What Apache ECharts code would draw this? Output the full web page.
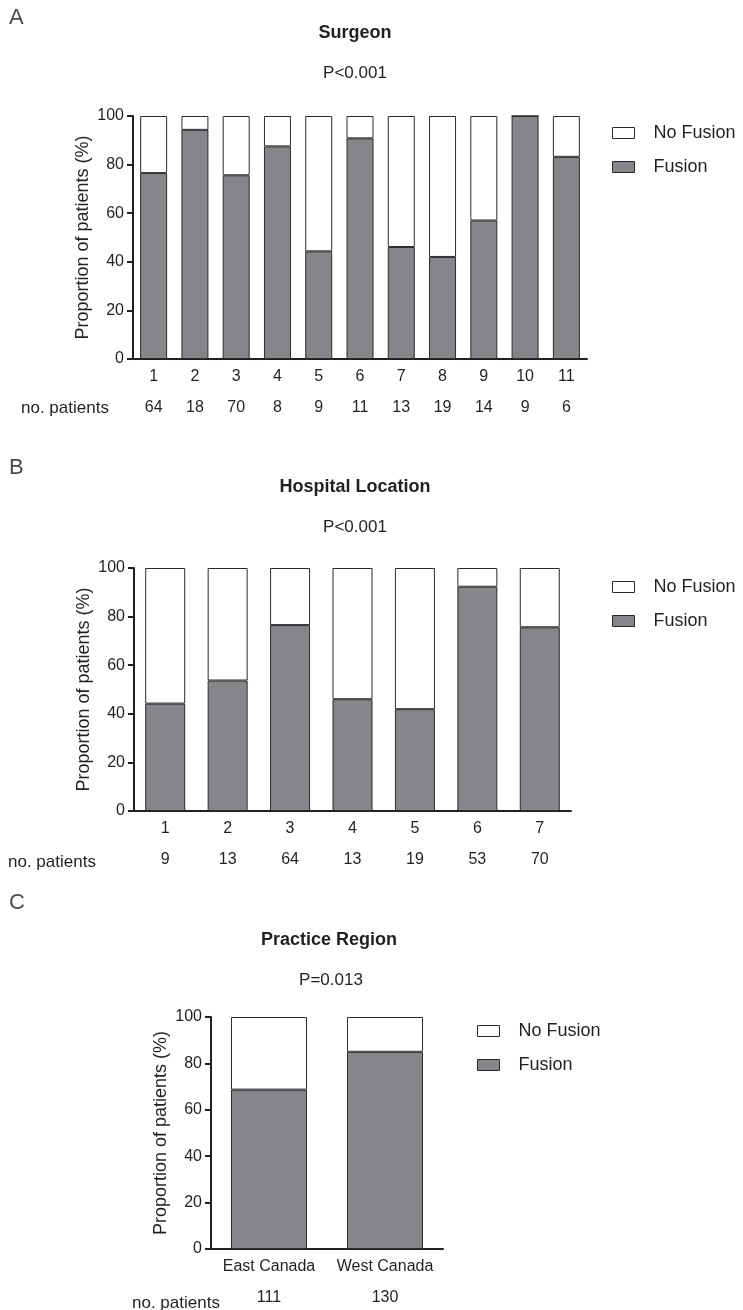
<!DOCTYPE html>
<html>
<head>
<meta charset="utf-8">
<script src="https://cdn.jsdelivr.net/npm/echarts@6/dist/echarts.min.js"></script>
<style>
  html, body { margin: 0; padding: 0; background: #fff; }
  #main { width: 743px; height: 1310px; }
</style>
</head>
<body>
<div id="main"></div>
<script>
// values (percent of patients)
var surgeonCats = ['1', '2', '3', '4', '5', '6', '7', '8', '9', '10', '11'];
var surgeonFusion = [76.5, 94.3, 75.6, 87.5, 44.3, 90.8, 46.1, 42.0, 57.0, 100, 83.2];
var surgeonNoFusion = [23.5, 5.7, 24.4, 12.5, 55.7, 9.2, 53.9, 58.0, 43.0, 0, 16.8];
var surgeonN = ['64', '18', '70', '8', '9', '11', '13', '19', '14', '9', '6'];

var hospitalCats = ['1', '2', '3', '4', '5', '6', '7'];
var hospitalFusion = [44.2, 53.7, 76.5, 46.0, 41.9, 92.3, 75.6];
var hospitalNoFusion = [55.8, 46.3, 23.5, 54.0, 58.1, 7.7, 24.4];
var hospitalN = ['9', '13', '64', '13', '19', '53', '70'];

var regionCats = ['East Canada', 'West Canada'];
var regionFusion = [68.7, 85.0];
var regionNoFusion = [31.3, 15.0];
var regionN = ['111', '130'];

var yTicks = [0, 20, 40, 60, 80, 100];

var FONT = '"Liberation Sans", Arial, sans-serif';
var INK = '#231f20';
var GREY = '#85868a';

var panels = [
    { cats: surgeonCats, fus: surgeonFusion, nofus: surgeonNoFusion, n: surgeonN,
      grid: { left: 133, top: 116, width: 454, height: 243 }, bw: 27,
      legendTop: 124, legendLeft: 612 },
    { cats: hospitalCats, fus: hospitalFusion, nofus: hospitalNoFusion, n: hospitalN,
      grid: { left: 134, top: 568, width: 437, height: 243 }, bw: 40,
      legendTop: 578, legendLeft: 612 },
    { cats: regionCats, fus: regionFusion, nofus: regionNoFusion, n: regionN,
      grid: { left: 211, top: 1017, width: 232, height: 232 }, bw: 76,
      legendTop: 1022, legendLeft: 477 }
];

var grid = [], xAxis = [], yAxis = [], series = [], legend = [];

panels.forEach(function (p, i) {
    grid.push(p.grid);
    // category axis
    xAxis.push({
        type: 'category', gridIndex: i, data: p.cats,
        axisLine: { lineStyle: { color: INK, width: 2 } },
        axisTick: { alignWithLabel: true, length: 5, lineStyle: { color: INK, width: 2 } },
        axisLabel: { color: INK, fontSize: 16, fontFamily: FONT, margin: 10, interval: 0 }
    });
    // patient counts row
    xAxis.push({
        type: 'category', gridIndex: i, data: p.n, position: 'bottom', offset: 33,
        axisLine: { show: false }, axisTick: { show: false },
        axisLabel: { color: INK, fontSize: 16, fontFamily: FONT, margin: 8, interval: 0 }
    });
    yAxis.push({
        type: 'value', gridIndex: i, min: yTicks[0], max: yTicks[yTicks.length - 1], interval: 20,
        name: 'Proportion of patients (%)', nameLocation: 'middle', nameGap: 41,
        nameMoveOverlap: false,
        nameTextStyle: { color: INK, fontSize: 18, fontFamily: FONT },
        splitLine: { show: false },
        axisLine: { show: true, lineStyle: { color: INK, width: 2 } },
        axisTick: { show: true, length: 6, lineStyle: { color: INK, width: 2 } },
        axisLabel: { color: INK, fontSize: 16, fontFamily: FONT, margin: 9 }
    });
    series.push({
        name: 'Fusion', type: 'bar', stack: 's' + i, xAxisIndex: i * 2, yAxisIndex: i,
        data: p.fus, barWidth: p.bw,
        itemStyle: { color: GREY, borderColor: '#2b2b2b', borderWidth: 1 }
    });
    series.push({
        name: 'No Fusion', type: 'bar', stack: 's' + i, xAxisIndex: i * 2, yAxisIndex: i,
        data: p.nofus, barWidth: p.bw,
        itemStyle: { color: '#ffffff', borderColor: '#2b2b2b', borderWidth: 1 }
    });
    legend.push({
        data: ['No Fusion', 'Fusion'], orient: 'vertical', padding: 0,
        left: p.legendLeft, top: p.legendTop, itemWidth: 22, itemHeight: 11, itemGap: 16,
        icon: 'rect', itemStyle: { borderWidth: 1, borderColor: '#2b2b2b' },
        textStyle: { color: INK, fontSize: 18, fontFamily: FONT, padding: [0, 0, 0, 14] }
    });
});

function txt(x, y, s, size, weight, align, color) {
    return {
        type: 'text', x: x, y: y,
        style: { text: s, fontSize: size, fontWeight: weight || 'normal', fontFamily: FONT,
                 fill: color || INK, align: align || 'center', verticalAlign: 'middle' }
    };
}

var graphic = [
    txt(9, 18, 'A', 22, 'normal', 'left', '#4a4a4a'),
    txt(355, 33, 'Surgeon', 18, 'bold'),
    txt(355, 73, 'P<0.001', 17),
    txt(21, 408, 'no. patients', 17, 'normal', 'left'),

    txt(9, 468, 'B', 22, 'normal', 'left', '#4a4a4a'),
    txt(355, 487, 'Hospital Location', 18, 'bold'),
    txt(355, 527, 'P<0.001', 17),
    txt(8, 862, 'no. patients', 17, 'normal', 'left'),

    txt(9, 903, 'C', 22, 'normal', 'left', '#4a4a4a'),
    txt(329, 940, 'Practice Region', 18, 'bold'),
    txt(331, 980, 'P=0.013', 17),
    txt(132, 1303, 'no. patients', 17, 'normal', 'left')
];

var myChart = echarts.init(document.getElementById('main'));
myChart.setOption({
    animation: false,
    backgroundColor: '#ffffff',
    grid: grid,
    xAxis: xAxis,
    yAxis: yAxis,
    legend: legend,
    series: series,
    graphic: graphic
});
</script>
</body>
</html>
